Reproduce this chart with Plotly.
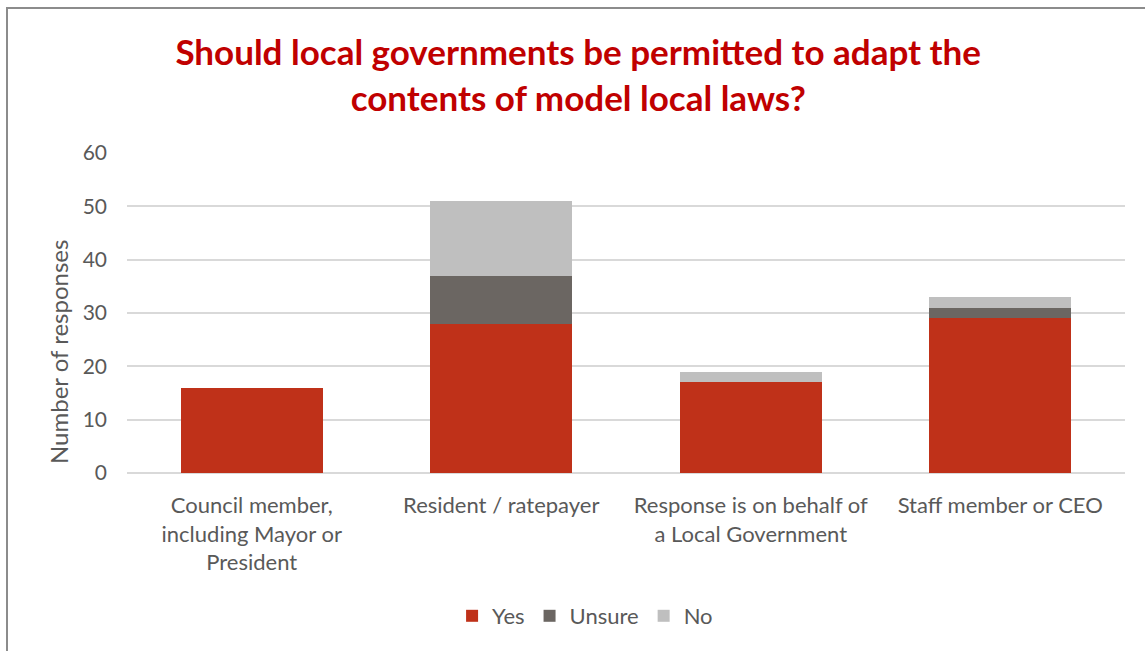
import plotly.graph_objects as go

# Respondent groups and answer counts
categories = [
    "Council member,<br>including Mayor or<br>President",
    "Resident / ratepayer",
    "Response is on behalf of<br>a Local Government",
    "Staff member or CEO",
]
yes_counts = [16, 28, 17, 29]
unsure_counts = [0, 9, 0, 2]
no_counts = [0, 14, 2, 2]

y_ticks = [0, 10, 20, 30, 40, 50, 60]

FONT = "Lato"
TEXT_GREY = "#595959"

fig = go.Figure()
series = [
    ("Yes", yes_counts, "#BF3119"),
    ("Unsure", unsure_counts, "#6B6662"),
    ("No", no_counts, "#BFBFBF"),
]
for name, vals, col in series:
    fig.add_trace(go.Bar(
        name=name, x=categories, y=vals,
        marker=dict(color=col, line=dict(width=0)),
    ))

W, H = 1145, 651
ml, mr, mt, mb = 127, 20, 153, 178
pw, ph = W - ml - mr, H - mt - mb

# pixel (from left / from top) -> paper coordinates
def px_x(v):
    return (v - ml) / pw

def px_y(v):
    return (H - mb - v) / ph

fig.update_layout(
    width=W, height=H,
    margin=dict(l=ml, r=mr, t=mt, b=mb),
    barmode="stack",
    bargap=0.43,
    paper_bgcolor="white",
    plot_bgcolor="white",
    font=dict(family=FONT, color=TEXT_GREY, size=20),
    title=dict(
        text="Should local governments be permitted to adapt the<br>contents of model local laws?",
        x=0.505, xanchor="center", y=1 - 65 / H, yanchor="middle",
        font=dict(family=FONT, size=35, color="#C00000", weight="bold"),
    ),
    xaxis=dict(
        tickfont=dict(size=22, color=TEXT_GREY),
        showgrid=False, showline=False, ticks="",
        ticklabelstandoff=17,
    ),
    yaxis=dict(
        range=[0, 60], tickvals=y_ticks,
        gridcolor="#D9D9D9", gridwidth=1.5,
        zeroline=True, zerolinecolor="#D9D9D9", zerolinewidth=1.5,
        tickfont=dict(size=21, color=TEXT_GREY),
        ticklabelstandoff=19,
    ),
    legend=dict(
        orientation="h", x=0.459, xanchor="center",
        y=px_y(616), yanchor="middle",
        font=dict(size=22, color=TEXT_GREY),
        traceorder="normal",
    ),
    annotations=[dict(
        text="Number of responses", textangle=-90,
        xref="paper", yref="paper", x=px_x(58), y=px_y(352),
        xanchor="center", yanchor="middle", showarrow=False,
        font=dict(size=24, color=TEXT_GREY),
    )],
    shapes=[dict(
        type="rect", xref="paper", yref="paper",
        x0=px_x(7), x1=px_x(1160), y0=px_y(680), y1=px_y(8),
        line=dict(color="#8C8C8C", width=2), fillcolor="rgba(0,0,0,0)", layer="below",
    )],
)

fig.write_html("out.html")
